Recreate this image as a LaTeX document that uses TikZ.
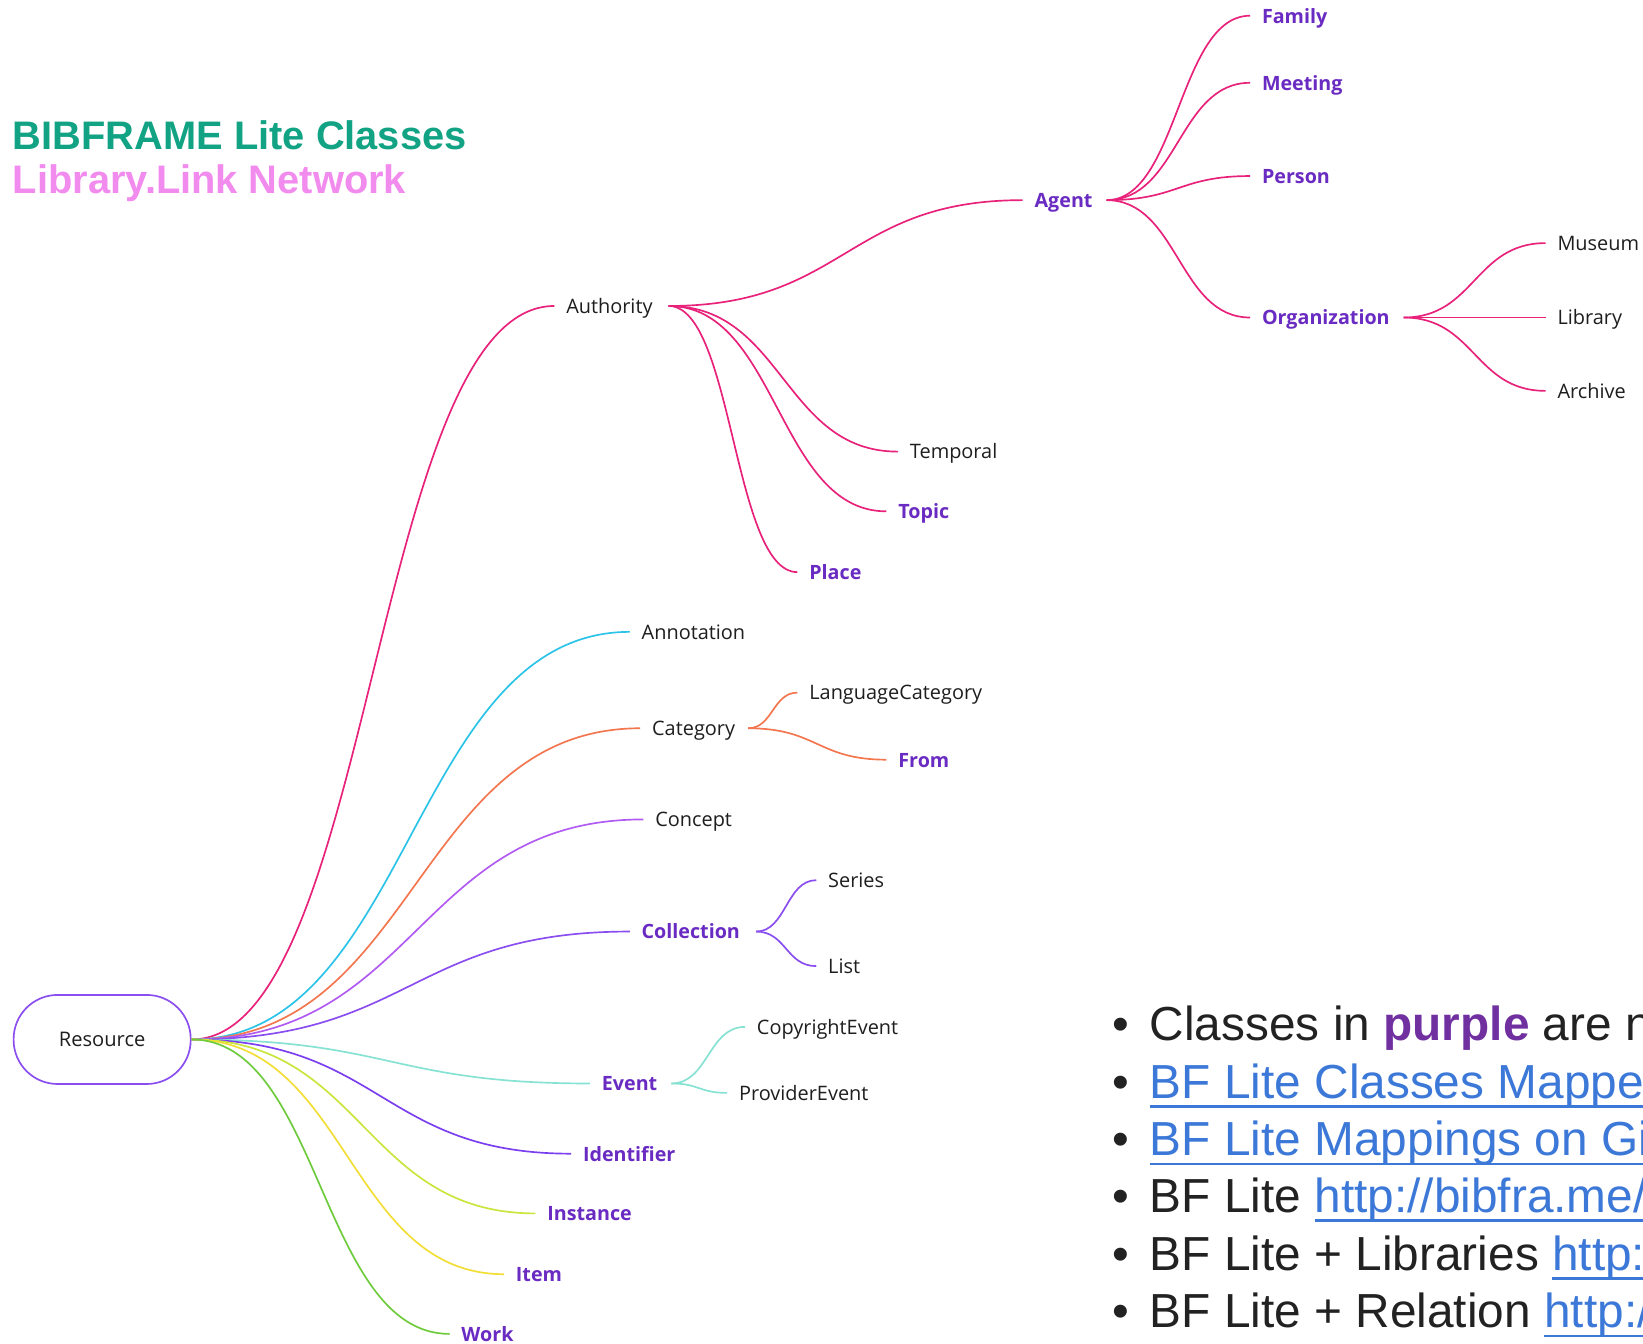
\documentclass[tikz,border=0pt]{standalone}
\usepackage{fontspec}
\setmainfont{Open Sans}
\newfontfamily\arialf{Liberation Sans}
\usetikzlibrary{calc}
\definecolor{lblpurple}{HTML}{6A2BC2}
\definecolor{txtdark}{HTML}{1E1E1E}
\definecolor{cpink}{HTML}{E8227A}
\definecolor{ccyan}{HTML}{2BC3E8}
\definecolor{corange}{HTML}{F3764F}
\definecolor{cconcept}{HTML}{B25BF2}
\definecolor{ccoll}{HTML}{8A4DF0}
\definecolor{cteal}{HTML}{86E2D2}
\definecolor{cident}{HTML}{7B3FF0}
\definecolor{cinst}{HTML}{C8E63C}
\definecolor{citem}{HTML}{F2DE34}
\definecolor{cwork}{HTML}{6ECB3C}
\definecolor{titlegreen}{HTML}{12A384}
\definecolor{titlepink}{HTML}{F28BEE}
\definecolor{bulpurple}{HTML}{7030A0}
\definecolor{linkblue}{HTML}{3C78D8}
\definecolor{bultext}{HTML}{222222}
\tikzset{
  lbl/.style={anchor=base west, inner sep=0pt, text=txtdark, font=\fontsize{9.5}{11}\selectfont},
  blbl/.style={anchor=base west, inner sep=0pt, text=lblpurple, font=\fontsize{9.4}{11}\selectfont\bfseries},
  br/.style={line width=0.8pt},
  bul/.style={anchor=base west, inner sep=0pt, text=bultext, font=\arialf\fontsize{22.8}{27}\selectfont},
  ttl/.style={anchor=base west, inner sep=0pt, font=\arialf\bfseries\fontsize{19}{23}\selectfont},
  rootbox/.style={draw=ccoll, line width=0.8pt, rounded corners=21pt, minimum width=84.5pt, minimum height=42.5pt, inner sep=0pt, text=txtdark, font=\fontsize{9.6}{11}\selectfont},
}
\newcommand\branch[4][13]{%
  \path ($(#3.base east)+(#1,-7)$) coordinate (s) ($(#4.base west)+(-11,-7)$) coordinate (t);
  \draw[br,#2] (s) .. controls ($(s)!0.5!(t|-s)$) and ($(t)!0.5!(s|-t)$) .. (t);}
\newcommand\rbranch[2]{%
  \path (res.east) coordinate (s) ($(#2.base west)+(-11,-7)$) coordinate (t);
  \draw[br,#1] (s) .. controls ($(s)!0.5!(t|-s)$) and ($(t)!0.5!(s|-t)$) .. (t);}
\newcommand\lnk[1]{\setbox0\hbox{#1}\rlap{\raisebox{-4.6pt}{\rule{\wd0}{1.2pt}}}\box0}
\begin{document}
\begin{tikzpicture}[x=0.5pt,y=-0.5pt]
\fill[white] (0,0) rectangle (1568,1282);
\useasboundingbox (0,0) rectangle (1568,1282);
% titles
\node[ttl, text=titlegreen] (t1) at (12,143) {BIBFRAME Lite Classes};
\node[ttl, text=titlepink] (t2) at (12,185) {Library.Link Network};
% root
\node[rootbox] (res) at (97.5,992) {Resource};
% level 1
\node[lbl] (authority) at (540,299) {Authority};
\node[lbl] (annotation) at (612,610) {Annotation};
\node[lbl] (category) at (622,702) {Category};
\node[lbl] (concept) at (625,789) {Concept};
\node[blbl] (collection) at (612,896) {Collection};
\node[blbl] (event) at (574,1041) {Event};
\node[blbl] (identifier) at (556,1108) {Identifier};
\node[blbl] (instance) at (522,1165) {Instance};
\node[blbl] (item) at (492,1223) {Item};
\node[blbl] (work) at (440,1280) {Work};
% authority children
\node[blbl] (agent) at (987,198) {Agent};
\node[lbl] (temporal) at (868,438) {Temporal};
\node[blbl] (topic) at (857,495) {Topic};
\node[blbl] (place) at (772,553) {Place};
% agent children
\node[blbl] (family) at (1204,22) {Family};
\node[blbl] (meeting) at (1204,86) {Meeting};
\node[blbl] (person) at (1204,175) {Person};
\node[blbl] (organization) at (1204,310) {Organization};
% organization children
\node[lbl] (museum) at (1486,239) {Museum};
\node[lbl] (library) at (1486,310) {Library};
\node[lbl] (archive) at (1486,380) {Archive};
% category children
\node[lbl] (langcat) at (772,668) {LanguageCategory};
\node[blbl] (from) at (857,732) {From};
% collection children
\node[lbl] (series) at (790,847) {Series};
\node[lbl] (list) at (790,929) {List};
% event children
\node[lbl] (copyright) at (722,987) {CopyrightEvent};
\node[lbl] (provider) at (705,1050) {ProviderEvent};
% connectors from root
\rbranch{cpink}{authority}
\rbranch{ccyan}{annotation}
\rbranch{corange}{category}
\rbranch{cconcept}{concept}
\rbranch{ccoll}{collection}
\rbranch{cteal}{event}
\rbranch{cident}{identifier}
\rbranch{cinst}{instance}
\rbranch{citem}{item}
\rbranch{cwork}{work}
% authority
\branch[15]{cpink}{authority}{agent}
\branch[15]{cpink}{authority}{temporal}
\branch[15]{cpink}{authority}{topic}
\branch[15]{cpink}{authority}{place}
% agent
\branch{cpink}{agent}{family}
\branch{cpink}{agent}{meeting}
\branch{cpink}{agent}{person}
\branch{cpink}{agent}{organization}
% organization
\branch{cpink}{organization}{museum}
\branch{cpink}{organization}{library}
\branch{cpink}{organization}{archive}
% category
\branch[12]{corange}{category}{langcat}
\branch[12]{corange}{category}{from}
% collection
\branch[15]{ccoll}{collection}{series}
\branch[15]{ccoll}{collection}{list}
% event
\branch{cteal}{event}{copyright}
\branch{cteal}{event}{provider}
% bullets
\begin{scope}
\clip (0,0) rectangle (1568,1282);
\node[bul] (b1) at (1097,993) {\llap{\textbullet\kern10pt}Classes in {\bfseries\color{bulpurple}purple} are n};
\node[bul] (b2) at (1097,1048) {\llap{\textbullet\kern10pt}{\color{linkblue}\lnk{BF Lite Classes Mappe}}};
\node[bul] (b3) at (1097,1103) {\llap{\textbullet\kern10pt}{\color{linkblue}\lnk{BF Lite Mappings on Gi}}};
\node[bul] (b4) at (1097,1157) {\llap{\textbullet\kern10pt}BF Lite {\color{linkblue}\lnk{http://bibfra.me/}}};
\node[bul] (b5) at (1097,1212) {\llap{\textbullet\kern10pt}BF Lite + Libraries {\color{linkblue}\lnk{http:}}};
\node[bul] (b6) at (1097,1267) {\llap{\textbullet\kern10pt}BF Lite + Relation {\color{linkblue}\lnk{http:/}}};
\end{scope}
\end{tikzpicture}
\end{document}
